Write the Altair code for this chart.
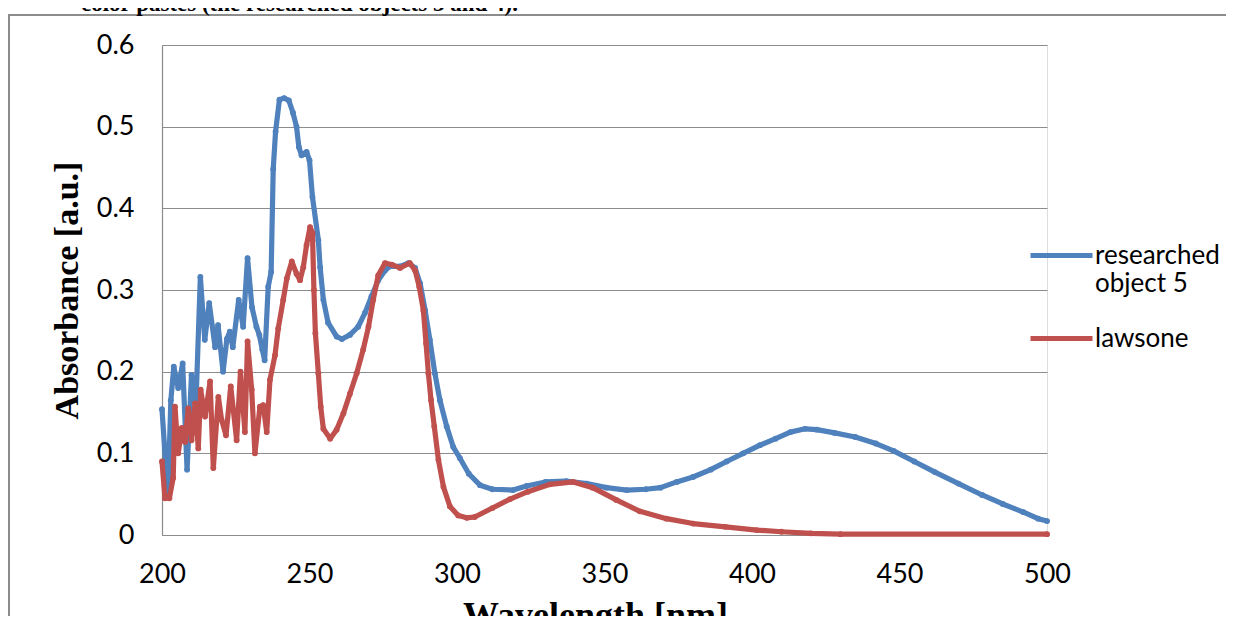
import altair as alt
import pandas as pd

# ---------------- data ----------------
series_names = ["researched object 5", "lawsone"]
series_colors = ["#4F81BD", "#C0504D"]

obj5_nm = [200, 202, 203, 204, 205.5, 207, 208.5, 210, 211.5, 213, 214.5, 216, 218, 219,
           220.7, 222, 223, 224, 226, 227.5, 229, 230.5, 232, 233, 234, 234.8, 236, 237,
           237.7, 238.5, 239.8, 241.4, 243, 244.4, 245.6, 246.4, 247.3, 249, 250, 251,
           253, 253.6, 254.7, 256.3, 259.2, 261, 263.7, 266.5, 268.8, 271, 273.3, 275.6,
           277.3, 280.7, 283.5, 285.8, 287.5, 289.2, 290.8, 292.5, 294.2, 296.5, 298.7,
           301, 304, 307.8, 312, 319, 323.6, 330, 337, 344, 350.7, 357.5, 364, 369, 374.5,
           380, 386, 391.4, 397, 402.7, 408, 413, 418, 422, 428, 435, 442, 448, 455, 462,
           470, 478, 485, 492, 497, 500]
obj5_abs = [0.154, 0.047, 0.165, 0.206, 0.180, 0.210, 0.080, 0.196, 0.160, 0.316, 0.239,
            0.284, 0.230, 0.257, 0.200, 0.240, 0.249, 0.230, 0.288, 0.255, 0.339, 0.279,
            0.255, 0.245, 0.227, 0.214, 0.304, 0.322, 0.448, 0.494, 0.533, 0.535, 0.532,
            0.517, 0.500, 0.475, 0.465, 0.469, 0.459, 0.414, 0.361, 0.328, 0.288, 0.260,
            0.243, 0.240, 0.245, 0.255, 0.272, 0.292, 0.312, 0.324, 0.329, 0.329, 0.333,
            0.327, 0.308, 0.275, 0.239, 0.198, 0.165, 0.133, 0.108, 0.094, 0.075, 0.061,
            0.056, 0.055, 0.060, 0.065, 0.066, 0.063, 0.058, 0.055, 0.056, 0.058, 0.065,
            0.071, 0.080, 0.090, 0.100, 0.110, 0.118, 0.126, 0.130, 0.129, 0.125, 0.120,
            0.112, 0.103, 0.090, 0.077, 0.063, 0.049, 0.038, 0.028, 0.020, 0.017]

lawsone_nm = [200, 201, 202.5, 203.8, 204.4, 205.5, 206.7, 207.8, 208.9, 210, 211.2, 212.3,
              213.1, 214.6, 216.3, 217.4, 219.1, 220.2, 221.7, 223.3, 225.3, 226.6, 228.1,
              229, 230.4, 231.5, 233.2, 234.3, 235.5, 236.6, 238.3, 239.4, 241.1, 242.3,
              244, 245.6, 246.8, 247.9, 249, 250.2, 251, 251.5, 252, 253, 253.8, 254.7,
              257, 259.2, 261.5, 263.7, 266, 268.2, 270, 271.6, 273.3, 275.6, 277.9,
              280.7, 284, 285.8, 287.2, 288.6, 289.5, 290.3, 291.2, 292.3, 293.7, 295.4,
              297.6, 300.4, 303.3, 306, 312, 318, 324, 331.5, 339.4, 346, 354, 362, 371,
              380, 391, 401.6, 410, 420, 430, 500]
lawsone_abs = [0.090, 0.045, 0.045, 0.070, 0.157, 0.100, 0.131, 0.114, 0.155, 0.116, 0.161,
               0.106, 0.178, 0.145, 0.188, 0.082, 0.169, 0.141, 0.122, 0.182, 0.116, 0.200,
               0.126, 0.237, 0.178, 0.100, 0.157, 0.159, 0.126, 0.190, 0.220, 0.253, 0.288,
               0.314, 0.335, 0.320, 0.312, 0.328, 0.355, 0.377, 0.370, 0.300, 0.247, 0.198,
               0.157, 0.130, 0.118, 0.129, 0.149, 0.173, 0.198, 0.227, 0.255, 0.288, 0.318,
               0.333, 0.331, 0.327, 0.333, 0.324, 0.304, 0.275, 0.235, 0.198, 0.165, 0.133,
               0.092, 0.059, 0.035, 0.024, 0.021, 0.022, 0.033, 0.044, 0.053, 0.062, 0.065,
               0.058, 0.043, 0.029, 0.020, 0.014, 0.010, 0.006, 0.004, 0.002, 0.001, 0.001]

x_ticks = [200, 250, 300, 350, 400, 450, 500]
y_ticks = [0, 0.1, 0.2, 0.3, 0.4, 0.5, 0.6]
x_title = "Wavelength [nm]"
y_title = "Absorbance [a.u.]"
caption_text = "color pastes (the researched objects 3 and 4)."
legend_split = {"researched object 5": ["researched", "object 5"]}

# ---------------- build tables ----------------
df = pd.concat([
    pd.DataFrame({"nm": obj5_nm, "abs": obj5_abs, "series": series_names[0]}),
    pd.DataFrame({"nm": lawsone_nm, "abs": lawsone_abs, "series": series_names[1]}),
], ignore_index=True)

k, v = list(legend_split.items())[0]
label_expr = "datum.label == '%s' ? ['%s', '%s'] : datum.label" % (k, v[0], v[1])

GRID = "#8c8c8c"
SERIF = "Liberation Serif"
SANS = "Lato"

color = alt.Color(
    "series:N",
    scale=alt.Scale(domain=series_names, range=series_colors),
    legend=alt.Legend(
        orient="none", legendX=866, legendY=177, title=None, direction="vertical",
        symbolType="stroke", symbolSize=3844, symbolStrokeWidth=5,
        labelFont=SANS, labelFontSize=26, labelColor="#000000", labelOffset=0,
        labelLimit=400, labelExpr=label_expr, rowPadding=8, padding=0,
        labelBaseline="middle",
    ),
)

x_enc = alt.X(
    "nm:Q",
    scale=alt.Scale(domain=[200, 500], nice=False, zero=False),
    axis=alt.Axis(values=x_ticks, title=x_title, grid=False, ticks=False,
                  domainColor=GRID, domainWidth=1.2,
                  labelFont=SANS, labelFontSize=27, labelColor="#000000",
                  labelPadding=26, labelFlush=False,
                  titleFont=SERIF, titleFontSize=36, titleFontWeight="bold",
                  titleColor="#000000", titleX=433, titleY=91,
                  titleAlign="center", titleBaseline="alphabetic"),
)
y_enc = alt.Y(
    "abs:Q",
    scale=alt.Scale(domain=[0, 0.6], nice=False),
    axis=alt.Axis(values=y_ticks, title=y_title, grid=True, gridColor=GRID, gridWidth=1.2,
                  ticks=False, domainColor=GRID, domainWidth=1.2,
                  labelExpr="datum.value == 0 ? '0' : format(datum.value, '.1f')",
                  labelFont=SANS, labelFontSize=27, labelColor="#000000",
                  labelPadding=28, labelFlush=False,
                  titleFont=SERIF, titleFontSize=34, titleFontWeight="bold",
                  titleColor="#000000", titleX=-95, titleY=245, titleAngle=270,
                  titleAlign="center", titleBaseline="middle"),
)

def series_layer(name):
    return alt.Chart(df).transform_filter(alt.datum.series == name).mark_line(
        strokeWidth=5.2, strokeJoin="round", strokeCap="round",
        point=alt.OverlayMarkDef(filled=True, size=34),
    ).encode(x=x_enc, y=y_enc, color=color, order="nm:Q")

frame = alt.Chart(alt.Data(values=[{"f": 1}])).mark_rect(
    fillOpacity=0, stroke="#8c8c8c", strokeWidth=2
).encode(x=alt.value(-153), x2=alt.value(1120), y=alt.value(-30), y2=alt.value(700))

caption = alt.Chart(alt.Data(values=[{"t": caption_text}])).mark_text(
    font=SERIF, fontSize=23, fontWeight="bold", align="left", baseline="alphabetic",
    color="#000000"
).encode(x=alt.value(-81), y=alt.value(-34), text="t:N")

chart = alt.layer(
    frame, series_layer(series_names[0]), series_layer(series_names[1]), caption
).properties(
    width=885, height=490,
    autosize=alt.AutoSizeParams(type="none"),
    padding={"left": 154, "top": 37, "right": 179, "bottom": 81},
).configure_view(stroke=None).configure(background="white")

chart.save("out.html", embed_options={"renderer": "svg", "actions": False})
